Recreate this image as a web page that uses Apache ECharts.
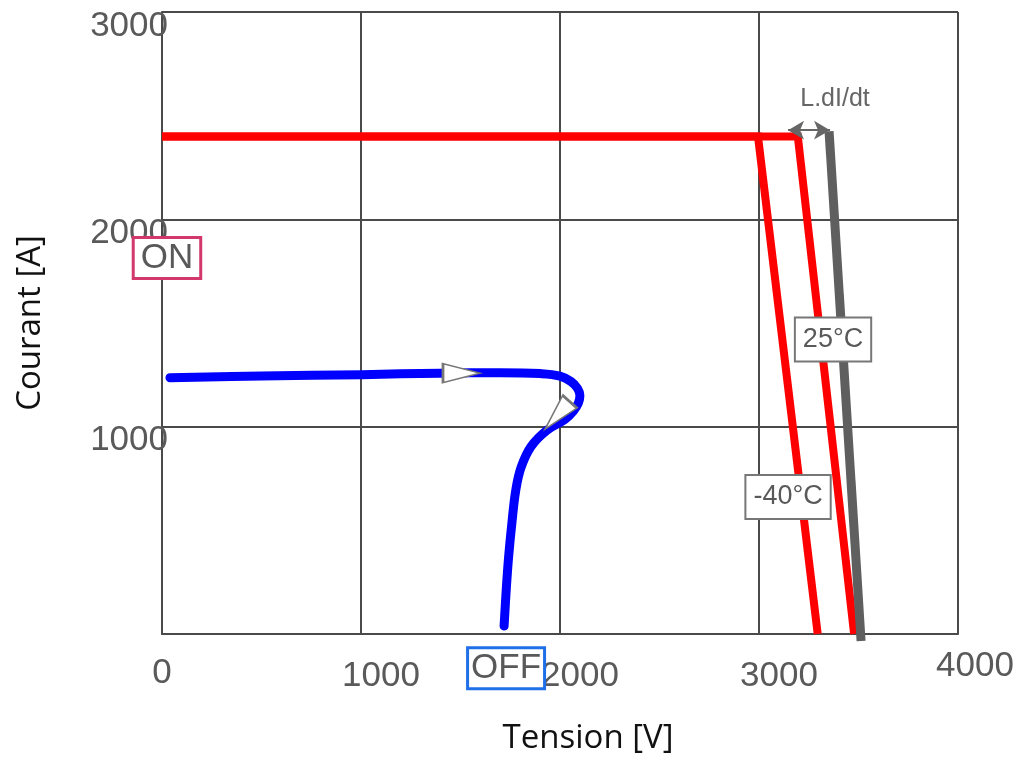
<!DOCTYPE html>
<html>
<head>
<meta charset="utf-8">
<script src="https://cdn.jsdelivr.net/npm/echarts@6/dist/echarts.min.js"></script>
<style>
html,body{margin:0;padding:0;background:#fff;}
#main{width:1021px;height:760px;}
</style>
</head>
<body>
<div id="main"></div>
<script>
// ---- data ----
const xTicks = [0, 1000, 2000, 3000, 4000];
const yTicks = [1000, 2000, 3000];
const xName = 'Tension [V]';
const yName = 'Courant [A]';

const redCold = [[0, 2400], [2995, 2400], [3295, 0]];      // -40°C
const redWarm = [[0, 2400], [3195, 2400], [3478, 0]];      // 25°C
const greyLine = [[3352, 2425], [3513, -34]];              // L.dI/dt shifted
const blueCurve = [
  [40, 1236], [500, 1244], [1005, 1251], [1397, 1258], [1700, 1260], [1900, 1256],
  [2000, 1244], [2055, 1218], [2088, 1185], [2100, 1150], [2093, 1115],
  [2068, 1076], [2025, 1035], [1933, 982],
  [1855, 905], [1805, 805], [1778, 695], [1758, 533], [1742, 374],
  [1730, 216], [1719, 38]
];
const flowArrows = [[1505, 1258, -90], [1987, 1054, 138]];
const dIdtArrow = [[3146, 2430], [3357, 2430]];

const boxLabels = [[3372, 1421, '25°C'], [3146, 661, '-40°C']];
const onLabel = [[25, 1814, 'ON']];
const offLabel = [[1729, -165, 'OFF']];
const dIdtLabel = [[3382, 2578, 'L.dI/dt']];

const chart = echarts.init(document.getElementById('main'));
const gridColor = '#4a4a4a';
const tickColor = '#5a5a5a';
const F = 'Liberation Sans, Arial, sans-serif';

function textScatter(data, labelStyle, z) {
  return {
    type: 'scatter', data: data, symbolSize: 0, clip: false, z: z || 10,
    silent: true, itemStyle: {opacity: 1},
    label: Object.assign({
      show: true, position: 'inside', formatter: p => p.data[2],
      fontFamily: F, color: '#595959'
    }, labelStyle)
  };
}

chart.setOption({
  animation: false,
  grid: {left: 162, right: 63, top: 12, bottom: 122},
  xAxis: {
    type: 'value', min: 0, max: 4000, interval: 1000,
    name: xName, nameLocation: 'middle', nameGap: 88,
    nameTextStyle: {fontFamily: 'Open Sans, sans-serif', fontSize: 33, color: '#111', padding: [0, 0, 0, 56]},
    axisLine: {show: true, lineStyle: {color: gridColor, width: 2}},
    axisTick: {show: false},
    splitLine: {show: true, lineStyle: {color: gridColor, width: 2}},
    axisLabel: {
      margin: 15,
      formatter: v => {
        if (xTicks.indexOf(v) < 0) return '';
        if (v === 0) return '{z|' + v + '}';
        if (v === 4000) return '{e|' + v + '}';
        return '{n|' + v + '}';
      },
      rich: {
        z: {fontFamily: F, fontSize: 35, color: tickColor, padding: [7, 0, 0, 0]},
        n: {fontFamily: F, fontSize: 35, color: tickColor, padding: [10, 0, 0, 40]},
        e: {fontFamily: F, fontSize: 35, color: tickColor, padding: [0, 0, 0, 34]}
      }
    }
  },
  yAxis: {
    type: 'value', min: 0, max: 3000, interval: 1000,
    name: yName, nameLocation: 'middle', nameGap: 115, nameRotate: 90,
    nameTextStyle: {fontFamily: 'Open Sans, sans-serif', fontSize: 33, color: '#111'},
    axisLine: {show: true, lineStyle: {color: gridColor, width: 2}},
    axisTick: {show: false},
    splitLine: {show: true, lineStyle: {color: gridColor, width: 2}},
    axisLabel: {
      margin: -6, showMinLabel: false,
      formatter: v => yTicks.indexOf(v) < 0 ? '' : '{n|' + v + '}',
      rich: {n: {fontFamily: F, fontSize: 35, color: tickColor, padding: [28, 0, 0, 0]}}
    }
  },
  series: [
    {type: 'line', data: redCold, showSymbol: false, symbol: 'none', z: 3,
     lineStyle: {color: '#ff0000', width: 8, join: 'miter'}},
    {type: 'line', data: redWarm, showSymbol: false, symbol: 'none', z: 3,
     lineStyle: {color: '#ff0000', width: 8, join: 'miter'}},
    {type: 'line', data: greyLine, showSymbol: false, symbol: 'none', z: 4, clip: false,
     lineStyle: {color: '#5f5f5f', width: 9}},
    {type: 'line', data: blueCurve, showSymbol: false, symbol: 'none', smooth: 0.4, z: 5,
     lineStyle: {color: '#0000ff', width: 9, cap: 'round', join: 'round'}},
    {type: 'scatter', z: 6, silent: true,
     data: flowArrows.map(a => ({value: [a[0], a[1]], symbolRotate: a[2]})),
     symbol: 'triangle', symbolSize: [19, 37],
     itemStyle: {color: '#ffffff', borderColor: '#777777', borderWidth: 2, opacity: 1}},
    {type: 'line', data: [], z: 6,
     markLine: {
       silent: true, symbol: ['arrow', 'arrow'], symbolSize: [14, 16],
       label: {show: false},
       lineStyle: {color: '#666', width: 2, type: 'solid'},
       data: [[{coord: dIdtArrow[0]}, {coord: dIdtArrow[1]}]]
     }},
    textScatter(boxLabels, {fontSize: 27, backgroundColor: '#fff', borderColor: '#777', borderWidth: 2, padding: [8, 7, 7, 7]}, 8),
    textScatter(onLabel, {fontSize: 35, backgroundColor: '#fff', borderColor: '#d2386c', borderWidth: 3, padding: [2, 6, 1, 6]}, 8),
    textScatter(offLabel, {fontSize: 35, backgroundColor: '#fff', borderColor: '#1f6fe8', borderWidth: 3, padding: [2, 2, 1, 2]}, 8),
    textScatter(dIdtLabel, {fontSize: 25, color: '#666'}, 8)
  ]
});
</script>
</body>
</html>
